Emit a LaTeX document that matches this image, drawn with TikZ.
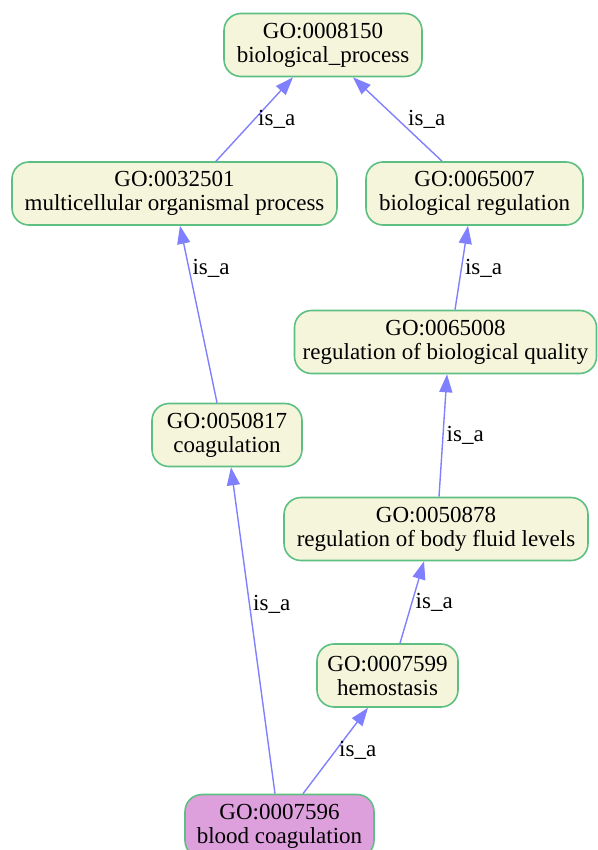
\documentclass[tikz,border=0pt]{standalone}
\usepackage{fontspec}
\setmainfont{Liberation Serif}
\usetikzlibrary{arrows.meta}

\definecolor{termfill}{HTML}{F5F5DC}
\definecolor{termedge}{HTML}{5EBF82}
\definecolor{queryfill}{HTML}{DDA0DD}
\definecolor{isacol}{HTML}{8080FF}

\begin{document}
\begin{tikzpicture}[x=1pt, y=-1pt, font=\fontsize{23}{24}\selectfont,
  term/.style={draw=termedge, fill=termfill, line width=1.6pt, rounded corners=17pt,
    align=center, minimum height=63pt, inner sep=0pt},
  query/.style={term, fill=queryfill},
  arr/.style={-{Triangle[length=18pt, width=13pt]}, draw=isacol, line width=1.4pt},
  lbl/.style={anchor=west, inner sep=3pt, text=black}]
\useasboundingbox (0,0) rectangle (597,850);
\node[term, minimum width=198pt] (go8150) at (323,45) {GO:0008150\\biological\_process};
\node[term, minimum width=325pt] (go32501) at (174.5,193.5) {GO:0032501\\multicellular organismal process};
\node[term, minimum width=217pt] (go65007) at (474.5,193.5) {GO:0065007\\biological regulation};
\node[term, minimum width=302pt] (go65008) at (445.5,342) {GO:0065008\\regulation of biological quality};
\node[term, minimum width=150pt] (go50817) at (227,435) {GO:0050817\\coagulation};
\node[term, minimum width=304pt] (go50878) at (436,529) {GO:0050878\\regulation of body fluid levels};
\node[term, minimum width=141pt] (go7599) at (387.5,675.5) {GO:0007599\\hemostasis};
\node[query, minimum width=189pt] (go7596) at (279.5,826) {GO:0007596\\blood coagulation};
% is_a edges: source/target/start shift/end shift/label pos/label shift
\foreach \u/\v/\a/\b/\p/\s in {go32501/go8150/41.5/-30/0.5/0, go65007/go8150/-32.5/30/0.5/7,
  go50817/go32501/-10/5.5/0.76/0, go65008/go65007/9.5/-6.5/0.49/0,
  go50878/go65008/3/1.5/0.5/0, go7599/go50878/12.5/-12/0.5/0,
  go7596/go50817/-4.5/4/0.58/0, go7596/go7599/23.5/-19.5/0.5/0}
  \draw[arr] ([xshift=\a]\u.north) -- node[lbl, pos=\p, xshift=\s] {is\_a} ([xshift=\b]\v.south);
\end{tikzpicture}
\end{document}
